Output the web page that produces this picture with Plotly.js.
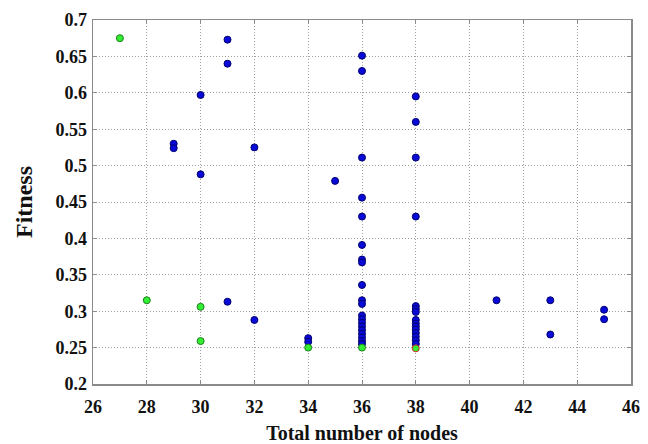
<!DOCTYPE html>
<html>
<head>
<meta charset="utf-8">
<script src="https://cdn.plot.ly/plotly-3.0.1.min.js"></script>
<style>html,body{margin:0;padding:0;background:#fff;}#chart{width:648px;height:444px;}</style>
</head>
<body>
<div id="chart"></div>
<script>
// Blue points: total number of nodes vs fitness
const blueNodes = [31, 31, 30, 29, 29, 32, 30, 35,
  36, 36, 36, 36, 36, 36, 36, 36, 36, 36, 36, 36, 36, 36, 36, 36, 36, 36, 36, 36,
  38, 38, 38, 38, 38, 38, 38, 38, 38, 38, 38, 38, 38, 38, 38,
  31, 32, 34, 34, 41, 43, 43, 45, 45];
const blueFitness = [0.673, 0.640, 0.597, 0.530, 0.524, 0.525, 0.488, 0.479,
  0.651, 0.630, 0.511, 0.456, 0.430, 0.391, 0.371, 0.367, 0.336, 0.315, 0.310, 0.294, 0.289, 0.284, 0.279, 0.274, 0.269, 0.264, 0.259, 0.255,
  0.595, 0.560, 0.511, 0.430, 0.307, 0.303, 0.299, 0.288, 0.283, 0.279, 0.275, 0.270, 0.265, 0.260, 0.255,
  0.313, 0.288, 0.263, 0.258, 0.315, 0.315, 0.268, 0.302, 0.289];
// Green points
const greenNodes = [27, 28, 30, 30, 34, 36];
const greenFitness = [0.675, 0.315, 0.306, 0.259, 0.250, 0.250];
// Green point with red edge
const redEdgeNodes = [38];
const redEdgeFitness = [0.249];

const xTicks = [26, 28, 30, 32, 34, 36, 38, 40, 42, 44, 46];
const yTicks = [0.2, 0.25, 0.3, 0.35, 0.4, 0.45, 0.5, 0.55, 0.6, 0.65, 0.7];

const serif = 'Times New Roman, Liberation Serif, serif';

const traces = [
  {x: blueNodes, y: blueFitness, type: 'scatter', mode: 'markers',
   marker: {size: 7, color: '#0a0ad8', line: {color: '#00006e', width: 1}}, cliponaxis: false},
  {x: greenNodes, y: greenFitness, type: 'scatter', mode: 'markers',
   marker: {size: 7, color: '#33ee33', line: {color: '#1a801a', width: 1}}, cliponaxis: false},
  {x: redEdgeNodes, y: redEdgeFitness, type: 'scatter', mode: 'markers',
   marker: {size: 7, color: '#33ee33', line: {color: '#d02020', width: 1}}, cliponaxis: false}
];

function axis(extra) {
  return Object.assign({
    showline: true, mirror: 'ticks', linecolor: '#8a8a8a', linewidth: 1.5,
    ticks: 'inside', ticklen: 4, tickcolor: '#8a8a8a',
    showgrid: true, gridcolor: '#a0a0a0', griddash: '1px,2px', gridwidth: 1,
    zeroline: false,
    tickfont: {family: serif, size: 18, color: '#111', weight: 'bold'}
  }, extra);
}

const layout = {
  width: 648, height: 444,
  font: {family: serif, color: '#111'},
  margin: {l: 93, r: 17, t: 20, b: 60},
  paper_bgcolor: '#fff', plot_bgcolor: '#fff',
  showlegend: false,
  xaxis: axis({
    range: [26, 46], tickmode: 'array', tickvals: xTicks, ticktext: xTicks.map(v => '<b>' + v + '</b>'),
    ticklabelstandoff: 6,
    title: {text: 'Total number of nodes', font: {family: serif, size: 20, color: '#111', weight: 'bold'}, standoff: 10}
  }),
  yaxis: axis({
    range: [0.2, 0.7], tickmode: 'array', tickvals: yTicks, ticktext: yTicks.map(v => '<b>' + v + '</b>'),
    ticklabelstandoff: 1,
    title: {text: 'Fitness', font: {family: serif, size: 24, color: '#111', weight: 'bold'}, standoff: 16}
  })
};

Plotly.newPlot('chart', traces, layout, {displayModeBar: false, staticPlot: true});
</script>
</body>
</html>
